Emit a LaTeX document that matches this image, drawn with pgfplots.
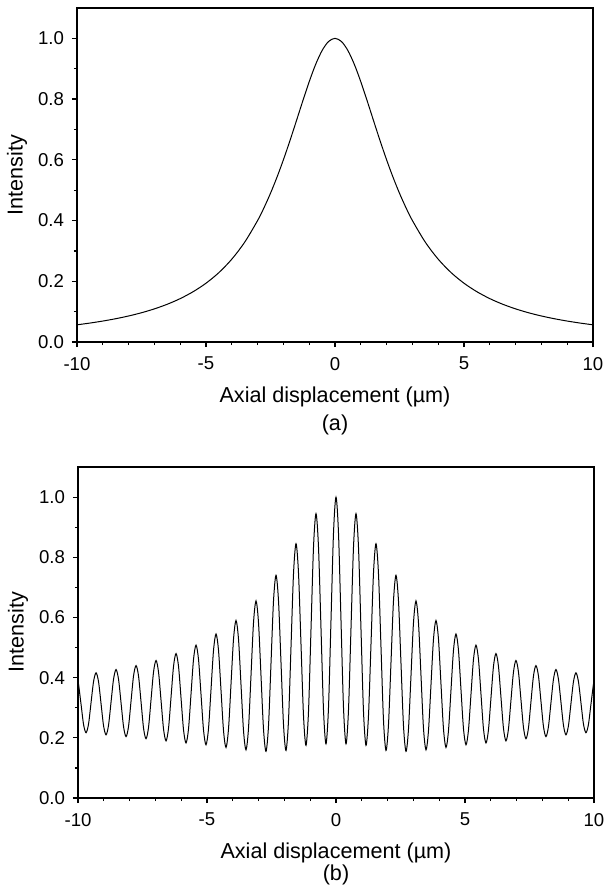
\documentclass[border=0pt]{standalone}
\usepackage{pgfplots}
\pgfplotsset{compat=1.18}
\usepackage{fontspec}
\setmainfont{Liberation Sans}
\begin{document}
\begin{tikzpicture}
\pgfplotsset{
  panel/.style={
    scale only axis, width=258pt,
    xmin=-10, xmax=10, ymin=0, ymax=1.1,
    axis line style={line width=0.8pt},
    xtick={-10,-5,0,5,10}, xticklabels={-10,-5,0,5,10},
    ytick={0,0.2,0.4,0.6,0.8,1.0}, yticklabels={0.0,0.2,0.4,0.6,0.8,1.0},
    minor x tick num=4, minor y tick num=1,
    tick align=outside, xtick pos=bottom, ytick pos=left,
    major tick length=2.5pt, minor tick length=1.5pt,
    tick style={black, line width=0.6pt},
    ticklabel style={font=\fontsize{9.3}{11}\selectfont},
    yticklabel style={xshift=-0.5pt},
    xticklabel style={yshift=-1.5pt},
  }
}
\useasboundingbox (-38.5pt,-274pt) rectangle (263.5pt,171pt);
\begin{axis}[panel, height=167pt, at={(0pt,0pt)}, anchor=south west]
\addplot[black, line width=0.5pt, smooth] coordinates {
(-10,0.0566) (-9.5,0.0624) (-9,0.0690) (-8.5,0.0767) (-8,0.0857) (-7.5,0.0964)
(-7,0.1091) (-6.5,0.1244) (-6,0.1429) (-5.5,0.1656) (-5,0.1936) (-4.5,0.2286)
(-4,0.2728) (-3.5,0.3288) (-3,0.4001) (-2.75,0.4425) (-2.5,0.4899) (-2.25,0.5425)
(-2,0.6001) (-1.75,0.6622) (-1.5,0.7274) (-1.25,0.7935) (-1,0.8572) (-0.75,0.9143)
(-0.5,0.9600) (-0.25,0.9897) (0,1.0) (0.25,0.9897) (0.5,0.9600) (0.75,0.9143)
(1,0.8572) (1.25,0.7935) (1.5,0.7274) (1.75,0.6622) (2,0.6001) (2.25,0.5425)
(2.5,0.4899) (2.75,0.4425) (3,0.4001) (3.5,0.3288) (4,0.2728) (4.5,0.2286)
(5,0.1936) (5.5,0.1656) (6,0.1429) (6.5,0.1244) (7,0.1091) (7.5,0.0964)
(8,0.0857) (8.5,0.0767) (9,0.0690) (9.5,0.0624) (10,0.0566)
};
\end{axis}
\begin{axis}[panel, height=165.5pt, at={(0.5pt,-228pt)}, anchor=south west]
\addplot[black, line width=0.5pt, smooth, tension=0.5] coordinates {
(-10,0.388) (-9.978,0.378) (-9.881,0.311) (-9.784,0.244) (-9.688,0.217)
(-9.591,0.246) (-9.494,0.317) (-9.397,0.387) (-9.300,0.416)
(-9.203,0.386) (-9.106,0.313) (-9.009,0.240) (-8.913,0.210)
(-8.816,0.242) (-8.719,0.319) (-8.622,0.395) (-8.525,0.427)
(-8.428,0.394) (-8.331,0.316) (-8.234,0.237) (-8.138,0.204)
(-8.041,0.238) (-7.944,0.322) (-7.847,0.406) (-7.750,0.440)
(-7.653,0.405) (-7.556,0.319) (-7.459,0.232) (-7.363,0.197)
(-7.266,0.235) (-7.169,0.327) (-7.072,0.419) (-6.975,0.457)
(-6.878,0.418) (-6.781,0.324) (-6.684,0.229) (-6.588,0.190)
(-6.491,0.232) (-6.394,0.335) (-6.297,0.438) (-6.200,0.480)
(-6.103,0.437) (-6.006,0.332) (-5.909,0.226) (-5.813,0.183)
(-5.716,0.230) (-5.619,0.346) (-5.522,0.461) (-5.425,0.508)
(-5.328,0.460) (-5.231,0.343) (-5.134,0.225) (-5.038,0.177)
(-4.941,0.231) (-4.844,0.361) (-4.747,0.491) (-4.650,0.545)
(-4.553,0.490) (-4.456,0.357) (-4.359,0.223) (-4.263,0.168)
(-4.166,0.230) (-4.069,0.379) (-3.972,0.528) (-3.875,0.590)
(-3.778,0.527) (-3.681,0.375) (-3.584,0.223) (-3.488,0.160)
(-3.391,0.232) (-3.294,0.408) (-3.197,0.583) (-3.100,0.655)
(-3.003,0.582) (-2.906,0.405) (-2.809,0.228) (-2.713,0.155)
(-2.616,0.240) (-2.519,0.448) (-2.422,0.655) (-2.325,0.740)
(-2.228,0.655) (-2.131,0.449) (-2.034,0.243) (-1.938,0.158)
(-1.841,0.258) (-1.744,0.502) (-1.647,0.745) (-1.550,0.845)
(-1.453,0.747) (-1.356,0.510) (-1.259,0.273) (-1.163,0.175)
(-1.066,0.287) (-0.969,0.560) (-0.872,0.833) (-0.775,0.945)
(-0.678,0.833) (-0.581,0.563) (-0.484,0.292) (-0.388,0.180)
(-0.291,0.300) (-0.194,0.590) (-0.097,0.880) (0,1.000)
(0.097,0.880) (0.194,0.590) (0.291,0.300) (0.388,0.180)
(0.484,0.292) (0.581,0.563) (0.678,0.833) (0.775,0.945)
(0.872,0.833) (0.969,0.560) (1.066,0.287) (1.163,0.175)
(1.259,0.273) (1.356,0.510) (1.453,0.747) (1.550,0.845)
(1.647,0.745) (1.744,0.502) (1.841,0.258) (1.938,0.158)
(2.034,0.243) (2.131,0.449) (2.228,0.655) (2.325,0.740)
(2.422,0.655) (2.519,0.448) (2.616,0.240) (2.713,0.155)
(2.809,0.228) (2.906,0.405) (3.003,0.582) (3.100,0.655)
(3.197,0.583) (3.294,0.408) (3.391,0.232) (3.488,0.160)
(3.584,0.223) (3.681,0.375) (3.778,0.527) (3.875,0.590)
(3.972,0.528) (4.069,0.379) (4.166,0.230) (4.263,0.168)
(4.359,0.223) (4.456,0.357) (4.553,0.490) (4.650,0.545)
(4.747,0.491) (4.844,0.361) (4.941,0.231) (5.038,0.177)
(5.134,0.225) (5.231,0.343) (5.328,0.460) (5.425,0.508)
(5.522,0.461) (5.619,0.346) (5.716,0.230) (5.813,0.183)
(5.909,0.226) (6.006,0.332) (6.103,0.437) (6.200,0.480)
(6.297,0.438) (6.394,0.335) (6.491,0.232) (6.588,0.190)
(6.684,0.229) (6.781,0.324) (6.878,0.418) (6.975,0.457)
(7.072,0.419) (7.169,0.327) (7.266,0.235) (7.363,0.197)
(7.459,0.232) (7.556,0.319) (7.653,0.405) (7.750,0.440)
(7.847,0.406) (7.944,0.322) (8.041,0.238) (8.138,0.204)
(8.234,0.237) (8.331,0.316) (8.428,0.394) (8.525,0.427)
(8.622,0.395) (8.719,0.319) (8.816,0.242) (8.913,0.210)
(9.009,0.240) (9.106,0.313) (9.203,0.386) (9.300,0.416)
(9.397,0.387) (9.494,0.317) (9.591,0.246) (9.688,0.217)
(9.784,0.244) (9.881,0.311) (9.978,0.378) (10,0.388)
};
\end{axis}
\begin{scope}[every node/.style={font=\fontsize{10.8}{12}\selectfont, inner sep=0pt}]
\node[rotate=90] at (-30pt,83.5pt) {Intensity};
\node at (129pt,-27.5pt) {Axial displacement (µm)};
\node at (129pt,-41.5pt) {(a)};
\node[rotate=90] at (-29.5pt,-145pt) {Intensity};
\node at (129.5pt,-255.5pt) {Axial displacement (µm)};
\node at (129.5pt,-266.5pt) {(b)};
\end{scope}
\end{tikzpicture}
\end{document}
